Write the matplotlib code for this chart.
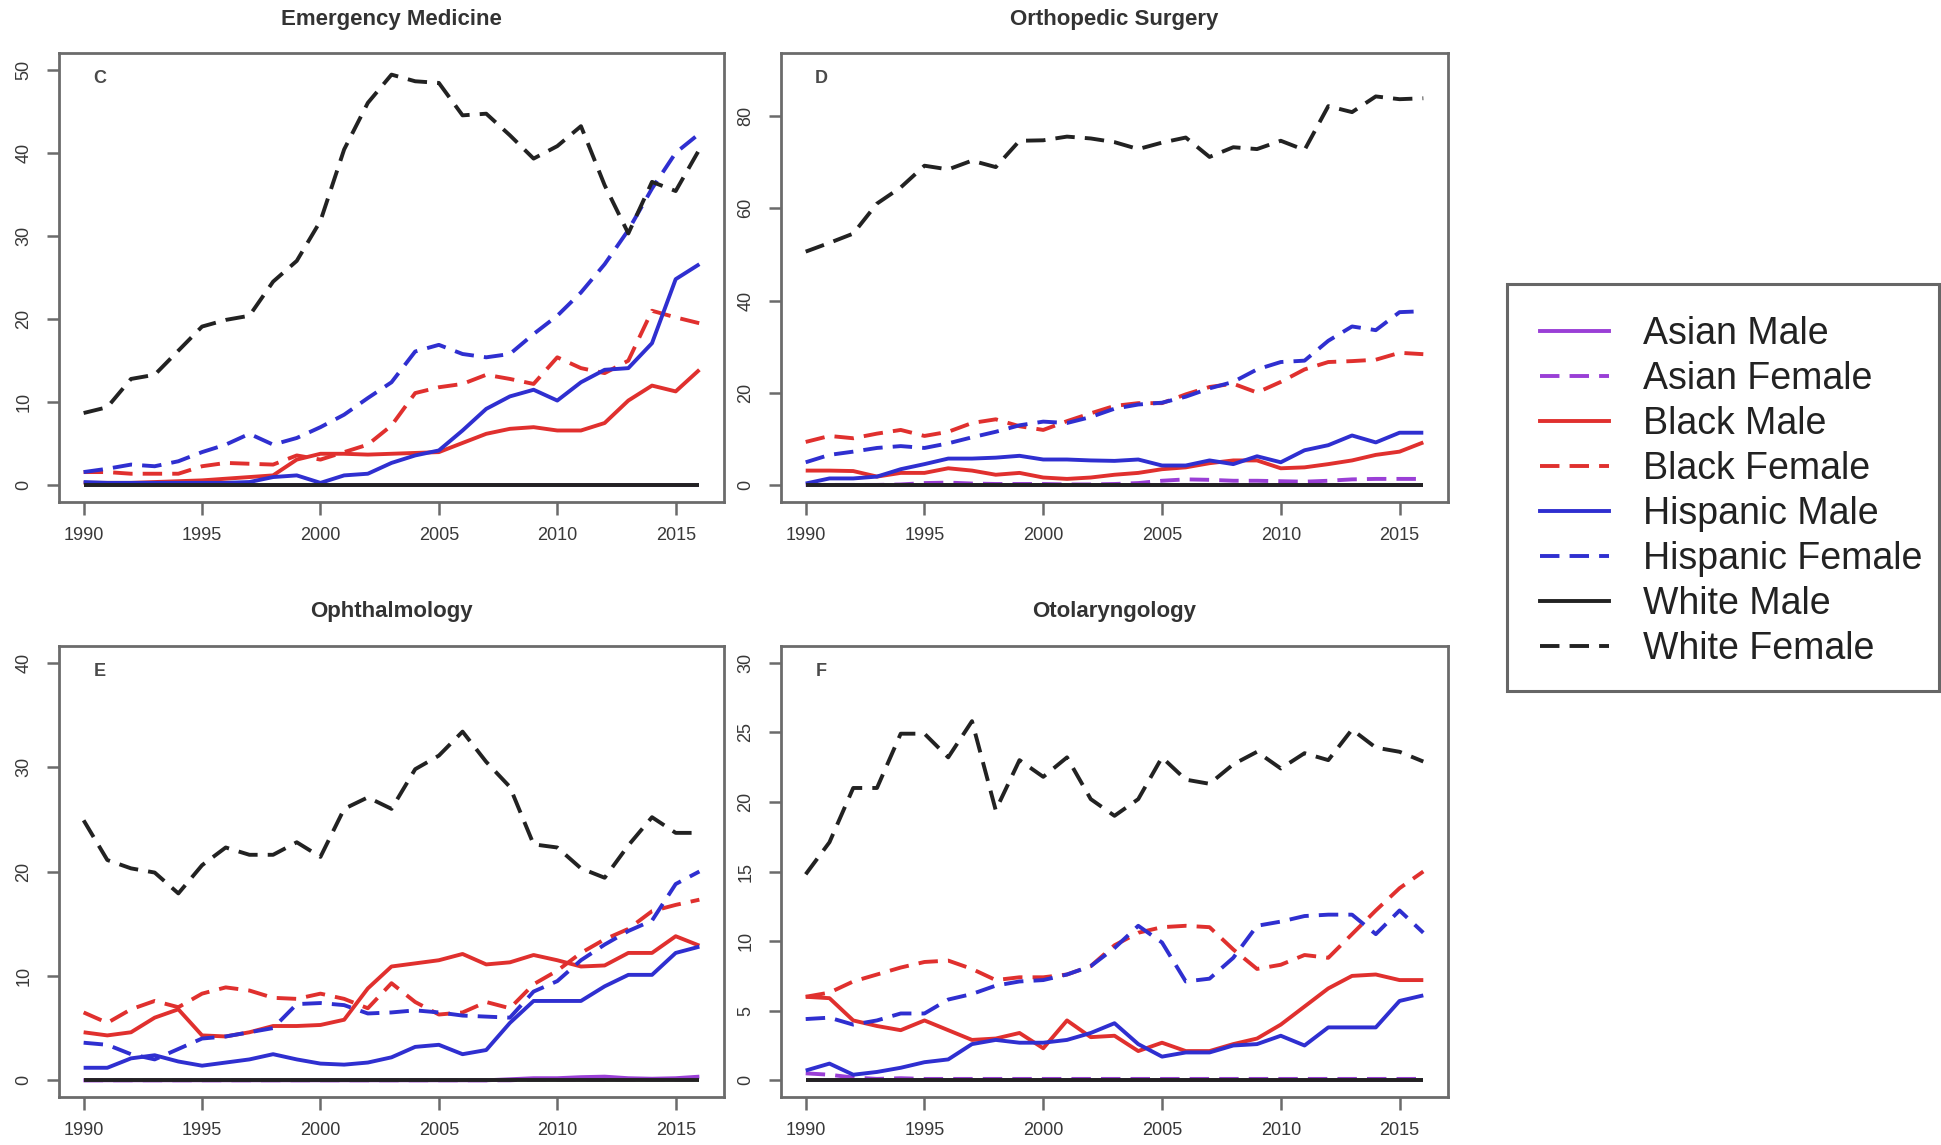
import matplotlib
matplotlib.use("Agg")
import matplotlib.pyplot as plt
from matplotlib.lines import Line2D
from matplotlib.patches import Rectangle

plt.rcParams['font.family'] = ['Liberation Sans', 'DejaVu Sans']

years = list(range(1990, 2017))
x_ticks = [1990, 1995, 2000, 2005, 2010, 2015]

series_names = ["Asian Male", "Asian Female", "Black Male", "Black Female",
                "Hispanic Male", "Hispanic Female", "White Male", "White Female"]
series_colors = ["#9a3fd6", "#9a3fd6", "#e0302e", "#e0302e",
                 "#2f2fd0", "#2f2fd0", "#222222", "#222222"]
series_dashed = [False, True, False, True, False, True, False, True]

# ---- Emergency Medicine (C) ----
em_asian_male = [0.1, 0.1, 0.1, 0.1, 0.1, 0.1, 0.1, 0.1, 0.1, 0.1, 0.1, 0.1, 0.1, 0.1,
                 0.1, 0.1, 0.1, 0.1, 0.1, 0.1, 0.1, 0.1, 0.1, 0.1, 0.1, 0.1, 0.1]
em_asian_female = [0.1, 0.1, 0.1, 0.1, 0.1, 0.1, 0.1, 0.1, 0.1, 0.1, 0.1, 0.1, 0.1, 0.1,
                   0.1, 0.1, 0.1, 0.1, 0.1, 0.1, 0.1, 0.1, 0.1, 0.1, 0.1, 0.1, 0.1]
em_black_male = [0.3, 0.3, 0.3, 0.4, 0.5, 0.6, 0.8, 1.0, 1.2, 3.1, 3.8, 3.8, 3.7, 3.8,
                 3.9, 4.0, 5.1, 6.2, 6.8, 7.0, 6.6, 6.6, 7.5, 10.2, 12.0, 11.3, 13.9]
em_black_female = [1.6, 1.6, 1.4, 1.4, 1.4, 2.3, 2.7, 2.6, 2.5, 3.6, 3.1, 4.0, 4.9, 7.2,
                   11.1, 11.8, 12.2, 13.3, 12.8, 12.2, 15.4, 14.1, 13.5, 15.0, 21.0, 20.2, 19.5]
em_hispanic_male = [0.4, 0.3, 0.3, 0.3, 0.3, 0.3, 0.3, 0.4, 1.0, 1.2, 0.3, 1.2, 1.4, 2.7,
                    3.6, 4.2, 6.6, 9.2, 10.7, 11.5, 10.2, 12.4, 13.9, 14.1, 17.1, 24.8, 26.6]
em_hispanic_female = [1.6, 2.0, 2.5, 2.3, 2.9, 4.0, 4.9, 6.2, 4.9, 5.7, 7.0, 8.5, 10.5, 12.4,
                      16.1, 16.9, 15.8, 15.4, 15.8, 18.2, 20.4, 23.2, 26.6, 30.7, 35.7, 40.0, 42.3]
em_white_male = [0.0, 0.0, 0.0, 0.0, 0.0, 0.0, 0.0, 0.0, 0.0, 0.0, 0.0, 0.0, 0.0, 0.0,
                 0.0, 0.0, 0.0, 0.0, 0.0, 0.0, 0.0, 0.0, 0.0, 0.0, 0.0, 0.0, 0.0]
em_white_female = [8.7, 9.4, 12.8, 13.3, 16.2, 19.1, 19.9, 20.4, 24.5, 27.0, 31.8, 40.4, 46.0, 49.4,
                   48.6, 48.4, 44.5, 44.7, 42.1, 39.3, 40.8, 43.2, 36.1, 30.3, 36.5, 35.4, 40.4]

# ---- Orthopedic Surgery (D) ----
os_asian_male = [0.1, 0.1, 0.1, 0.1, 0.1, 0.1, 0.1, 0.1, 0.1, 0.1, 0.1, 0.1, 0.1, 0.1,
                 0.1, 0.1, 0.1, 0.1, 0.1, 0.1, 0.1, 0.1, 0.1, 0.1, 0.1, 0.1, 0.1]
os_asian_female = [0.1, 0.1, 0.1, 0.1, 0.2, 0.5, 0.6, 0.4, 0.3, 0.3, 0.3, 0.2, 0.2, 0.3,
                   0.5, 1.0, 1.3, 1.2, 1.0, 1.0, 0.9, 0.8, 1.0, 1.3, 1.4, 1.4, 1.4]
os_black_male = [3.2, 3.2, 3.1, 1.9, 2.7, 2.7, 3.7, 3.2, 2.3, 2.7, 1.7, 1.4, 1.7, 2.3,
                 2.7, 3.5, 3.9, 4.8, 5.4, 5.4, 3.7, 3.9, 4.6, 5.4, 6.6, 7.3, 9.3]
os_black_female = [9.4, 10.7, 10.2, 11.2, 12.0, 10.7, 11.6, 13.5, 14.3, 12.8, 12.0, 13.9, 15.6, 17.2,
                   17.8, 17.8, 19.7, 21.3, 22.0, 20.1, 22.4, 25.1, 26.7, 26.9, 27.2, 28.7, 28.4]
os_hispanic_male = [0.4, 1.5, 1.5, 1.9, 3.5, 4.6, 5.8, 5.8, 6.0, 6.4, 5.6, 5.6, 5.4, 5.3,
                    5.6, 4.3, 4.3, 5.4, 4.6, 6.3, 5.0, 7.6, 8.7, 10.8, 9.3, 11.4, 11.4]
os_hispanic_female = [5.0, 6.6, 7.3, 8.1, 8.5, 8.1, 9.1, 10.4, 11.6, 13.0, 13.8, 13.5, 14.8, 16.6,
                      17.5, 17.9, 19.2, 21.0, 22.4, 25.1, 26.7, 27.0, 31.3, 34.4, 33.6, 37.5, 37.7]
os_white_male = [0.0, 0.0, 0.0, 0.0, 0.0, 0.0, 0.0, 0.0, 0.0, 0.0, 0.0, 0.0, 0.0, 0.0,
                 0.0, 0.0, 0.0, 0.0, 0.0, 0.0, 0.0, 0.0, 0.0, 0.0, 0.0, 0.0, 0.0]
os_white_female = [50.6, 52.5, 54.5, 61.0, 64.5, 69.2, 68.4, 70.3, 68.9, 74.6, 74.7, 75.5, 75.1, 74.3,
                   72.8, 74.2, 75.3, 71.1, 73.2, 72.8, 74.6, 72.6, 82.1, 80.8, 84.2, 83.6, 83.8]

# ---- Ophthalmology (E) ----
op_asian_male = [0.0, 0.0, 0.0, 0.0, 0.0, 0.0, 0.0, 0.0, 0.0, 0.0, 0.0, 0.0, 0.0, 0.0,
                 0.0, 0.0, 0.0, 0.0, 0.1, 0.2, 0.2, 0.3, 0.35, 0.2, 0.15, 0.2, 0.35]
op_asian_female = [0.0, 0.0, 0.0, 0.0, 0.0, 0.0, 0.0, 0.0, 0.0, 0.0, 0.0, 0.0, 0.0, 0.0,
                   0.0, 0.0, 0.0, 0.0, 0.0, 0.1, 0.1, 0.1, 0.1, 0.1, 0.1, 0.1, 0.1]
op_black_male = [4.6, 4.3, 4.6, 6.0, 6.8, 4.3, 4.2, 4.6, 5.2, 5.2, 5.3, 5.8, 8.8, 10.9,
                 11.2, 11.5, 12.1, 11.1, 11.3, 12.0, 11.5, 10.9, 11.0, 12.2, 12.2, 13.8, 12.9]
op_black_female = [6.5, 5.5, 6.8, 7.6, 7.0, 8.3, 8.9, 8.6, 7.9, 7.8, 8.3, 7.8, 6.9, 9.3,
                   7.5, 6.3, 6.5, 7.5, 6.9, 9.2, 10.5, 12.2, 13.5, 14.5, 16.2, 16.8, 17.3]
op_hispanic_male = [1.2, 1.2, 2.1, 2.4, 1.8, 1.4, 1.7, 2.0, 2.5, 2.0, 1.6, 1.5, 1.7, 2.2,
                    3.2, 3.4, 2.5, 2.9, 5.5, 7.6, 7.6, 7.6, 9.0, 10.1, 10.1, 12.2, 12.8]
op_hispanic_female = [3.6, 3.4, 2.5, 2.0, 3.0, 4.0, 4.2, 4.6, 5.0, 7.3, 7.4, 7.2, 6.4, 6.5,
                      6.7, 6.5, 6.2, 6.1, 6.0, 8.5, 9.5, 11.5, 13.0, 14.3, 15.3, 18.8, 20.0]
op_white_male = [0.0, 0.0, 0.0, 0.0, 0.0, 0.0, 0.0, 0.0, 0.0, 0.0, 0.0, 0.0, 0.0, 0.0,
                 0.0, 0.0, 0.0, 0.0, 0.0, 0.0, 0.0, 0.0, 0.0, 0.0, 0.0, 0.0, 0.0]
op_white_female = [24.9, 21.1, 20.3, 19.9, 17.9, 20.6, 22.3, 21.6, 21.6, 22.8, 21.4, 26.0, 27.1, 26.0,
                   29.8, 31.1, 33.4, 30.5, 28.1, 22.6, 22.3, 20.3, 19.4, 22.5, 25.2, 23.7, 23.7]

# ---- Otolaryngology (F) ----
ot_asian_male = [0.0, 0.0, 0.0, 0.0, 0.0, 0.0, 0.0, 0.0, 0.0, 0.0, 0.0, 0.0, 0.0, 0.0,
                 0.0, 0.0, 0.0, 0.0, 0.0, 0.0, 0.0, 0.0, 0.0, 0.0, 0.0, 0.0, 0.0]
ot_asian_female = [0.5, 0.4, 0.2, 0.1, 0.15, 0.1, 0.1, 0.1, 0.1, 0.1, 0.1, 0.1, 0.1, 0.1,
                   0.1, 0.1, 0.1, 0.1, 0.1, 0.1, 0.1, 0.1, 0.1, 0.1, 0.1, 0.1, 0.1]
ot_black_male = [6.0, 5.9, 4.3, 3.9, 3.6, 4.3, 3.6, 2.9, 3.0, 3.4, 2.3, 4.3, 3.1, 3.2,
                 2.1, 2.7, 2.1, 2.1, 2.6, 3.0, 4.0, 5.3, 6.6, 7.5, 7.6, 7.2, 7.2]
ot_black_female = [6.0, 6.3, 7.1, 7.6, 8.1, 8.5, 8.6, 8.0, 7.2, 7.4, 7.4, 7.6, 8.2, 9.7,
                   10.6, 11.0, 11.1, 11.0, 9.4, 8.0, 8.3, 9.0, 8.8, 10.5, 12.2, 13.8, 15.0]
ot_hispanic_male = [0.7, 1.2, 0.4, 0.6, 0.9, 1.3, 1.5, 2.6, 2.9, 2.7, 2.7, 2.9, 3.4, 4.1,
                    2.6, 1.7, 2.0, 2.0, 2.5, 2.6, 3.2, 2.5, 3.8, 3.8, 3.8, 5.7, 6.1]
ot_hispanic_female = [4.4, 4.5, 4.0, 4.3, 4.8, 4.8, 5.8, 6.2, 6.8, 7.1, 7.2, 7.6, 8.2, 9.5,
                      11.1, 9.9, 7.1, 7.3, 8.8, 11.1, 11.4, 11.8, 11.9, 11.9, 10.5, 12.2, 10.6]
ot_white_male = [0.0, 0.0, 0.0, 0.0, 0.0, 0.0, 0.0, 0.0, 0.0, 0.0, 0.0, 0.0, 0.0, 0.0,
                 0.0, 0.0, 0.0, 0.0, 0.0, 0.0, 0.0, 0.0, 0.0, 0.0, 0.0, 0.0, 0.0]
ot_white_female = [14.8, 17.1, 21.0, 21.0, 24.9, 24.9, 23.2, 25.8, 19.4, 23.0, 21.8, 23.2, 20.2, 19.0,
                   20.2, 23.2, 21.6, 21.3, 22.7, 23.6, 22.4, 23.5, 23.0, 25.2, 23.9, 23.6, 22.9]

panels = [
    ("Emergency Medicine", "C", [0, 10, 20, 30, 40, 50], (0, 50),
     [em_asian_male, em_asian_female, em_black_male, em_black_female,
      em_hispanic_male, em_hispanic_female, em_white_male, em_white_female]),
    ("Orthopedic Surgery", "D", [0, 20, 40, 60, 80], (0, 90),
     [os_asian_male, os_asian_female, os_black_male, os_black_female,
      os_hispanic_male, os_hispanic_female, os_white_male, os_white_female]),
    ("Ophthalmology", "E", [0, 10, 20, 30, 40], (0, 40),
     [op_asian_male, op_asian_female, op_black_male, op_black_female,
      op_hispanic_male, op_hispanic_female, op_white_male, op_white_female]),
    ("Otolaryngology", "F", [0, 5, 10, 15, 20, 25, 30], (0, 30),
     [ot_asian_male, ot_asian_female, ot_black_male, ot_black_female,
      ot_hispanic_male, ot_hispanic_female, ot_white_male, ot_white_female]),
]

W, H = 1941, 1145
fig = plt.figure(figsize=(W / 100, H / 100), dpi=100)
fig.patch.set_facecolor("white")

# panel boxes in pixel units: (left, top, right, bottom)
boxes = [(59, 53, 724, 502), (781, 53, 1448, 502),
         (59, 646, 724, 1097), (781, 646, 1448, 1097)]

box_color = "#6b6b6b"
label_color = "#383838"
lw = 2.8
dash = (5, 2.6)

for (title, letter, yticks, yrange, data), (l, t, r, b) in zip(panels, boxes):
    ax = fig.add_axes([l / W, 1 - b / H, (r - l) / W, (b - t) / H])
    for vals, color, dashed in zip(data, series_colors, series_dashed):
        line, = ax.plot(years, vals, color=color, lw=lw, solid_capstyle="butt",
                        dash_capstyle="butt")
        if dashed:
            line.set_dashes(dash)
    # R-style 4% range extension
    x0, x1 = years[0], years[-1]
    xe = (x1 - x0) * 0.04
    ax.set_xlim(x0 - xe, x1 + xe)
    ye = (yrange[1] - yrange[0]) * 0.04
    ax.set_ylim(yrange[0] - ye, yrange[1] + ye)
    ax.set_xticks(x_ticks)
    ax.set_xticklabels([str(v) for v in x_ticks])
    ax.set_yticks(yticks)
    ax.set_yticklabels([str(v) for v in yticks])
    for sp in ax.spines.values():
        sp.set_color(box_color)
        sp.set_linewidth(2.0)
    ax.tick_params(axis="both", direction="out", length=9, width=1.8,
                   color=box_color, labelcolor=label_color, labelsize=13)
    ax.tick_params(axis="x", pad=9)
    ax.tick_params(axis="y", pad=10, labelrotation=90)
    for lab in ax.get_yticklabels():
        lab.set_va("center")
    ax.text(0.061, 0.943, letter, transform=ax.transAxes, fontsize=13,
            fontweight="bold", color="#4a4a4a", ha="center", va="center")
    fig.text((l + r) / 2 / W, 1 - (t - 34) / H, title, fontsize=16,
             fontweight="bold", color="#333333", ha="center", va="center")

# legend
handles = []
for color, dashed in zip(series_colors, series_dashed):
    h = Line2D([0], [0], color=color, lw=lw)
    if dashed:
        h.set_dashes(dash)
    handles.append(h)
leg = fig.legend(handles, series_names, loc="upper left",
                 bbox_to_anchor=(1540 / W, 1 - 316 / H), frameon=False,
                 fontsize=27, handlelength=1.85, handletextpad=0.9,
                 labelspacing=0.24, borderpad=0, borderaxespad=0)
for txt in leg.get_texts():
    txt.set_color("#222222")
frame = Rectangle((1507 / W, 1 - 691 / H), (1939 - 1507) / W, (691 - 284) / H,
                  transform=fig.transFigure, fill=False, edgecolor="#666666",
                  lw=2.2)
fig.add_artist(frame)

fig.savefig("out.png", dpi=100, facecolor="white")
